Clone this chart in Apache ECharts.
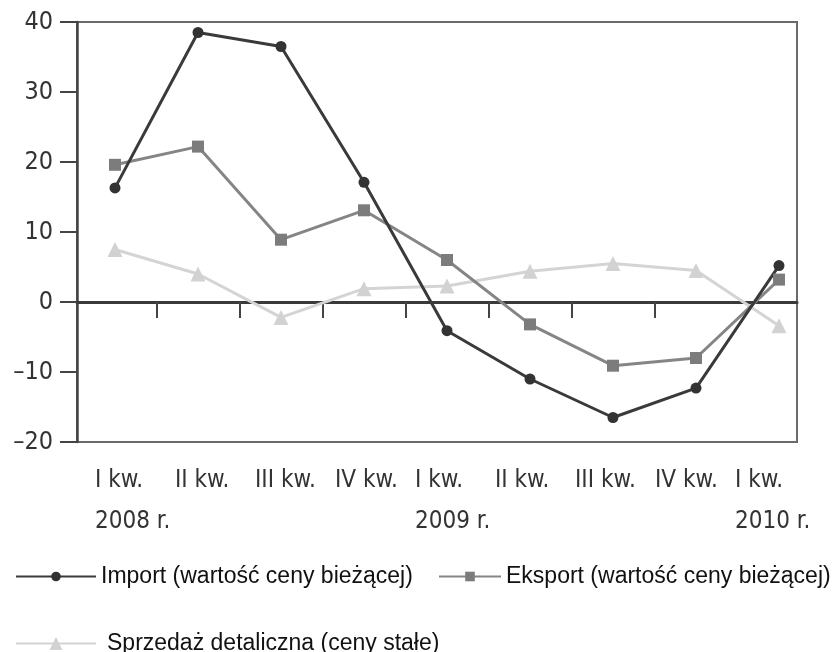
<!DOCTYPE html>
<html><head><meta charset="utf-8">
<script src="https://cdn.jsdelivr.net/npm/echarts@6/dist/echarts.min.js"></script>
<style>html,body{margin:0;padding:0;background:#fff}#c{width:832px;height:652px}</style>
</head><body><div id="c"></div>
<script>
const quarters = ['I kw.','II kw.','III kw.','IV kw.','I kw.','II kw.','III kw.','IV kw.','I kw.'];
const years = ['2008 r.','','','','2009 r.','','','','2010 r.'];
const importVals = [16.3, 38.5, 36.5, 17.1, -4.1, -11.0, -16.5, -12.3, 5.2];
const eksportVals = [19.6, 22.2, 8.9, 13.1, 6.0, -3.2, -9.1, -8.0, 3.2];
const sprzedazVals = [7.5, 4.0, -2.2, 1.9, 2.3, 4.4, 5.5, 4.5, -3.4];
const yMin = -20, yMax = 40, yStep = 10;
const names = ['Import (wartość ceny bieżącej)', 'Eksport (wartość ceny bieżącej)', 'Sprzedaż detaliczna (ceny stałe)'];

const narrow = '"Liberation Sans Narrow", "DejaVu Sans Condensed", "Roboto Condensed", sans-serif';
const sans = '"Liberation Sans", Arial, sans-serif';
const toXY = arr => arr.map((v, i) => [i, v]);
const midTicks = quarters.slice(0, 7).map((_, i) => i + 0.5);

const chart = echarts.init(document.getElementById('c'), null, {renderer: 'canvas'});
const legendText = {fontFamily: sans, fontSize: 23, color: '#111'};
chart.setOption({
  animation: false,
  backgroundColor: '#fff',
  grid: {left: 77, right: 35, top: 22, bottom: 210, show: true, borderColor: '#6a6a6a', borderWidth: 2, backgroundColor: 'transparent'},
  legend: [
    {data: [names[0]], left: 10, top: 560, itemWidth: 80, itemHeight: 12, textStyle: Object.assign({}, legendText), selectedMode: false},
    {data: [names[1]], left: 433, top: 560, itemWidth: 62, itemHeight: 12, textStyle: Object.assign({}, legendText), selectedMode: false},
    {data: [names[2]], left: 10, top: 627, itemWidth: 80, itemHeight: 16, textStyle: Object.assign({padding: [0,0,0,6]}, legendText), selectedMode: false}
  ],
  xAxis: [
    {
      type: 'value', position: 'top', min: -0.458, max: 8.217,
      axisLine: {onZero: true, lineStyle: {color: '#3a3a3a', width: 3}},
      axisTick: {show: true, inside: true, length: 16, customValues: midTicks, lineStyle: {color: '#444', width: 2}},
      axisLabel: {show: false}, splitLine: {show: false}
    },
    {
      type: 'category', position: 'bottom', data: quarters, boundaryGap: true,
      axisLine: {show: false, onZero: false}, axisTick: {show: false}, splitLine: {show: false},
      axisLabel: {
        interval: 0, margin: 18, align: 'left', verticalAlign: 'top',
        padding: [0, 0, 0, -22],
        fontFamily: narrow, fontSize: 24, lineHeight: 41, color: '#333',
        formatter: (v, i) => v + '\n' + (years[i] || ' ')
      }
    }
  ],
  yAxis: {
    type: 'value', min: yMin, max: yMax, interval: yStep,
    axisLine: {show: true, onZero: false, lineStyle: {color: '#444', width: 2.5}},
    axisTick: {show: true, length: 17, lineStyle: {color: '#444', width: 2}},
    axisLabel: {margin: 24, fontFamily: narrow, fontSize: 25, color: '#333',
      formatter: v => String(v).replace('-', '\u2013')},
    splitLine: {show: false}
  },
  series: [
    {name: names[2], type: 'line', xAxisIndex: 0, data: toXY(sprzedazVals), symbol: 'triangle', symbolSize: 15,
      lineStyle: {color: '#d4d4d4', width: 3}, itemStyle: {color: '#d2d2d2'}},
    {name: names[1], type: 'line', xAxisIndex: 0, data: toXY(eksportVals), symbol: 'rect', symbolSize: 12,
      lineStyle: {color: '#858585', width: 3}, itemStyle: {color: '#7c7c7c'}},
    {name: names[0], type: 'line', xAxisIndex: 0, data: toXY(importVals), symbol: 'circle', symbolSize: 11,
      lineStyle: {color: '#3a3a3a', width: 3}, itemStyle: {color: '#333'}}
  ]
});
</script></body></html>
